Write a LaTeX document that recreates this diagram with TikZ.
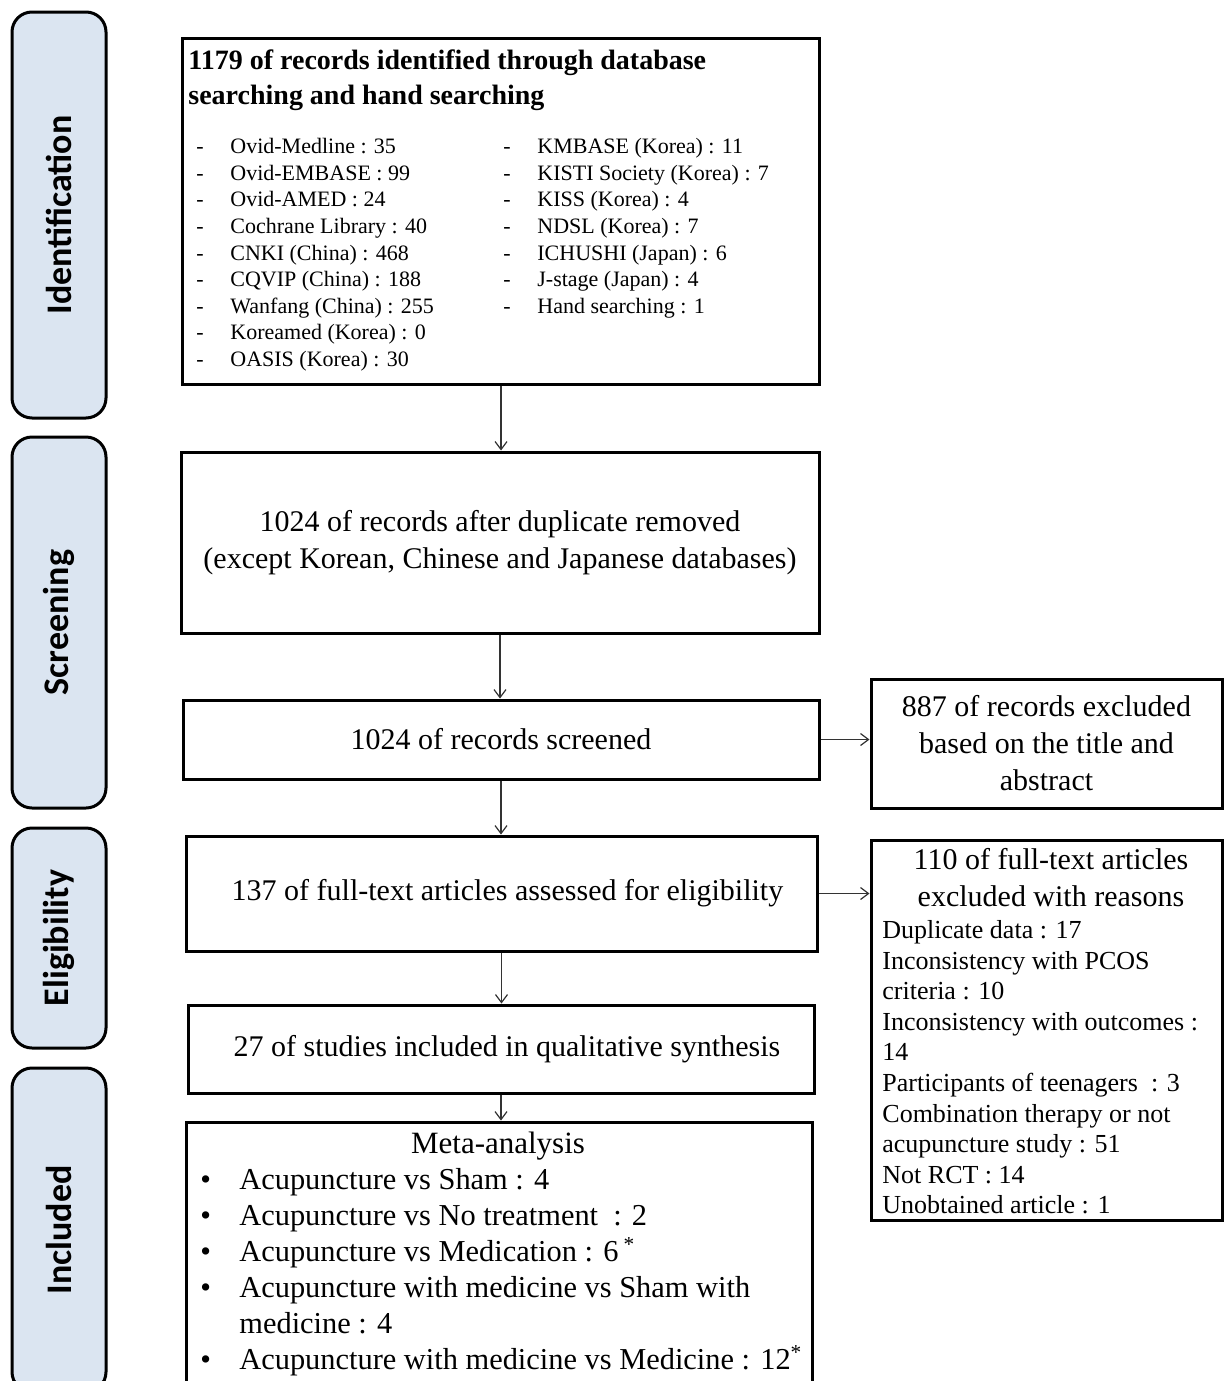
\documentclass[tikz,border=0pt]{standalone}
\usepackage{fontspec}
\setmainfont{Liberation Serif}
\newfontfamily\tabfont{Carlito}
\usetikzlibrary{arrows.meta}
\definecolor{tabblue}{HTML}{DBE5F1}
\newcommand\dsh{\makebox[17pt][l]{-}}
\newcommand\bul{\makebox[19.5pt][l]{\textbullet}}
\begin{document}
\begin{tikzpicture}[x=0.5pt,y=-0.5pt,
  box/.style={draw, line width=1.5pt, rectangle, inner sep=0pt, align=center, font=\fontsize{15}{18.5}\selectfont},
  tab/.style={draw, line width=1.5pt, fill=tabblue, rounded corners=10pt, rotate=90, minimum height=47pt, inner sep=0pt, font=\tabfont\bfseries\fontsize{18}{22}\selectfont},
  arr/.style={draw=black!80, line width=0.6pt, -{Straight Barb[length=4pt,width=6pt]}},
  txt/.style={inner sep=0pt, align=left}]
\useasboundingbox[fill=white] (0,0) rectangle (1224,1381);

% phase tabs
\node[tab, minimum width=203pt] (tabI) at (59,215) {Identification};
\node[tab, minimum width=185.5pt] (tabS) at (59,622.5) {Screening};
\node[tab, minimum width=110pt] (tabE) at (59,938) {Eligibility};
\node[tab, minimum width=162pt] (tabN) at (59,1230) {Included};

% main boxes
\node[box, minimum width=318.5pt, minimum height=173pt] (b1) at (501,211) {};
\node[txt, anchor=north west, font=\bfseries\fontsize{14}{17.5}\selectfont] (b1t) at (188,49)
  {1179 of records identified through database\\searching and hand searching};
\node[txt, anchor=north west, font=\fontsize{11}{13.3}\selectfont] (b1l) at (196,138)
  {\dsh Ovid-Medline : 35\\
   \dsh Ovid-EMBASE : 99\\
   \dsh Ovid-AMED : 24\\
   \dsh Cochrane Library : 40\\
   \dsh CNKI (China) : 468\\
   \dsh CQVIP (China) : 188\\
   \dsh Wanfang (China) : 255\\
   \dsh Koreamed (Korea) : 0\\
   \dsh OASIS (Korea) : 30};
\node[txt, anchor=north west, font=\fontsize{11}{13.3}\selectfont] (b1r) at (503,138)
  {\dsh KMBASE (Korea) : 11\\
   \dsh KISTI Society (Korea) : 7\\
   \dsh KISS (Korea) : 4\\
   \dsh NDSL (Korea) : 7\\
   \dsh ICHUSHI (Japan) : 6\\
   \dsh J-stage (Japan) : 4\\
   \dsh Hand searching : 1};

\node[box, minimum width=319pt, minimum height=90.5pt] (b2) at (500,542.5)
  {1024 of records after duplicate removed\\(except Korean, Chinese and Japanese databases)};
\node[box, minimum width=318pt, minimum height=39.5pt] (b3) at (501,739.5)
  {1024 of records screened};
\node[box, minimum width=175.5pt, minimum height=64.5pt] (r1) at (1046.5,743.5)
  {887 of records excluded\\based on the title and\\abstract};
\node[box, minimum width=315.5pt, minimum height=57.5pt] (b4) at (501.5,893.5)
  {\hspace*{6pt}137 of full-text articles assessed for eligibility};
\node[box, minimum width=175.5pt, minimum height=190pt] (r2) at (1046.5,1030) {};
\node[inner sep=0pt, align=center, anchor=north, font=\fontsize{15}{18.5}\selectfont] (r2t) at (1051,848)
  {110 of full-text articles\\excluded with reasons};
\node[txt, anchor=north west, font=\fontsize{13}{15.3}\selectfont] (r2l) at (882,920)
  {Duplicate data : 17\\
   Inconsistency with PCOS\\
   criteria : 10\\
   Inconsistency with outcomes :\\
   14\\
   Participants of teenagers \ : 3\\
   Combination therapy or not\\
   acupuncture study : 51\\
   Not RCT : 14\\
   Unobtained article : 1};
\node[box, minimum width=313pt, minimum height=44pt] (b5) at (501,1049)
  {\hspace*{6pt}27 of studies included in qualitative synthesis};
\node[box, minimum width=313pt, minimum height=139pt] (b6) at (499,1261) {};
\node[inner sep=0pt, anchor=north, font=\fontsize{15.5}{18}\selectfont] (b6t) at (498,1132) {Meta-analysis};
\node[txt, anchor=north west, font=\fontsize{15.2}{18}\selectfont] (b6l) at (200,1168)
  {\bul Acupuncture vs Sham : 4\\
   \bul Acupuncture vs No treatment \ : 2\\
   \bul Acupuncture vs Medication : 6\,\textsuperscript{*}\\
   \bul Acupuncture with medicine vs Sham with\\
   \hspace*{19.5pt}medicine : 4\\
   \bul Acupuncture with medicine vs Medicine : 12\textsuperscript{*}};

% connectors
\draw[arr] (b1.south) -- (b1.south |- b2.north);
\draw[arr] (b2.south) -- (b2.south |- b3.north);
\draw[arr] (b3.south) -- (b3.south |- b4.north);
\draw[arr] (b4.south) -- (b4.south |- b5.north);
\draw[arr] (b5.south) -- (b5.south |- b6.north);
\draw[arr] (b3.east) -- (b3.east -| r1.west);
\draw[arr] (b4.east) -- (b4.east -| r2.west);
\end{tikzpicture}
\end{document}
